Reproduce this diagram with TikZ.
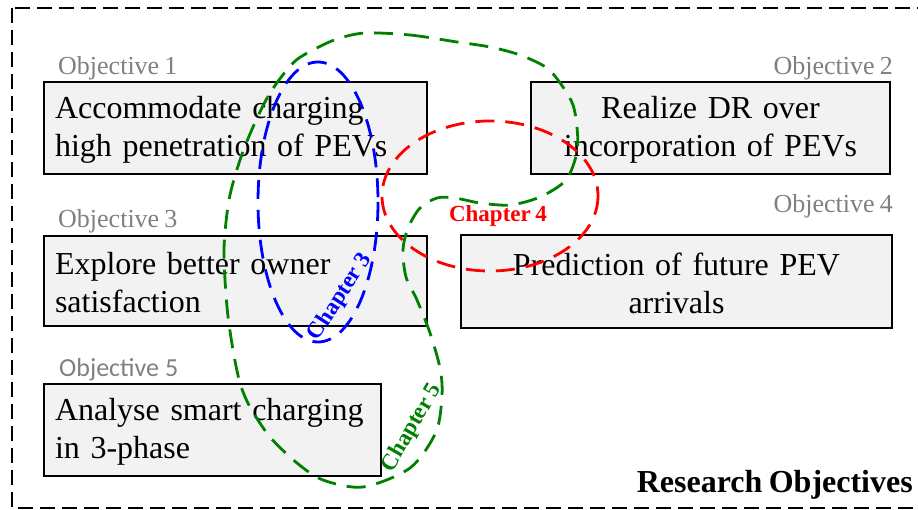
\documentclass[tikz,border=0pt]{standalone}
\usepackage{fontspec}
\setmainfont[WordSpace=0.8]{Liberation Serif}
\newfontfamily\calibrifont{Carlito}
\definecolor{boxgray}{HTML}{F2F2F2}
\definecolor{labelgray}{HTML}{808080}
\definecolor{chgreen}{HTML}{008000}
% extra height on the first line of each box text
\newcommand\boxlead{\rule{0pt}{26pt}}
\begin{document}
\begin{tikzpicture}[x=1pt,y=-1pt,
  objbox/.style={draw=black, line width=1.8pt, fill=boxgray, inner xsep=11pt, inner ysep=0pt,
    minimum height=92pt, font=\fontsize{32}{38}\selectfont},
  objlabel/.style={text=labelgray, inner sep=0pt, font=\fontsize{26}{30}\selectfont},
  chapterline/.style={line width=2.8pt, dash pattern=on 19pt off 11pt},
  chapterlabel/.style={inner sep=0pt, font=\bfseries\fontsize{23}{26}\selectfont},
]
\useasboundingbox (0,0) rectangle (918,510);

% outer frame
\draw[line width=1.7pt, dash pattern=on 15pt off 7pt] (12,8) rectangle (940,508);

% objective boxes
\node[objbox, text width=361pt, align=left, minimum width=383pt] (b1) at (235.5,128)
  {\boxlead Accommodate charging\\high penetration of PEVs};
\node[objbox, text width=337pt, align=center, minimum width=359pt] (b2) at (710.5,128)
  {\boxlead Realize DR over\\incorporation of PEVs};
\node[objbox, text width=361pt, align=left, minimum width=383pt, minimum height=90pt] (b3) at (235.5,281)
  {\boxlead Explore better owner\\satisfaction};
\node[objbox, text width=409pt, align=center, minimum width=431pt, minimum height=93pt] (b4) at (676.5,281.5)
  {\boxlead Prediction of future PEV\\arrivals};
\node[objbox, text width=315pt, align=left, minimum width=337pt] (b5) at (212.5,430)
  {\boxlead Analyse smart charging\\in 3-phase};

% objective labels
\node[objlabel, anchor=base west] (l1) at (58,75) {Objective 1};
\node[objlabel, anchor=base east] (l2) at (893,75) {Objective 2};
\node[objlabel, anchor=base west] (l3) at (58,228) {Objective 3};
\node[objlabel, anchor=base east] (l4) at (893,213) {Objective 4};
\node[objlabel, anchor=base west, font=\calibrifont\fontsize{26}{30}\selectfont] (l5) at (59,377) {Objective 5};

% title
\node[inner sep=0pt, anchor=base east, font=\bfseries\fontsize{32}{38}\selectfont] (title) at (913,492)
  {Research Objectives};

% chapter groupings
\draw[chapterline, blue] (318,202) ellipse [x radius=60, y radius=140];
\draw[chapterline, red] (490,196) ellipse [x radius=108, y radius=75];
\draw[chapterline, chgreen] plot[smooth cycle, tension=0.5] coordinates {
  (365,33) (410,35) (457,42) (490,47) (520,55) (547,68) (563,87) (573,105)
  (577,127) (577,152) (566,180) (540,197) (510,205) (480,203) (455,198)
  (437,198) (420,208) (408,228) (403,250) (406,277) (417,300) (430,333)
  (440,368) (442,395) (436,432) (410,468) (363,487) (323,480) (297,463)
  (270,437) (250,407) (240,383) (233,350) (227,307) (224,250) (229,200)
  (240,160) (253,127) (270,93) (293,63) (313,50) (337,39)};

\node[chapterlabel, text=blue, rotate=57] (c3) at (340,297) {Chapter 3};
\node[chapterlabel, text=red] (c4) at (498,216) {Chapter 4};
\node[chapterlabel, text=chgreen, rotate=60] (c5) at (412,428) {Chapter 5};
\end{tikzpicture}
\end{document}
